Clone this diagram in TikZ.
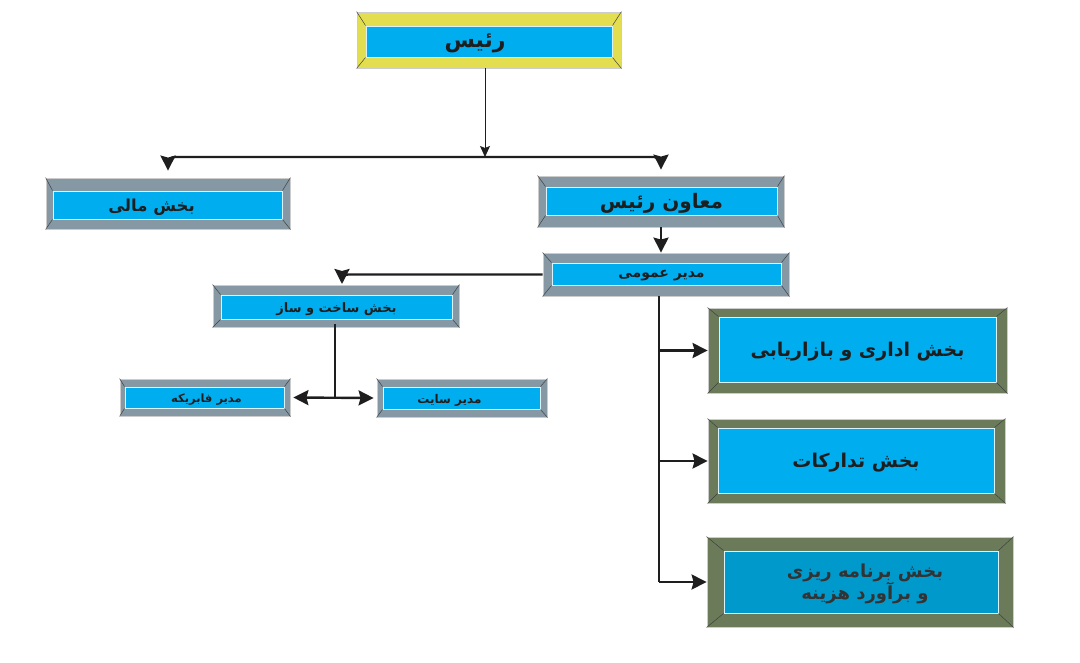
\documentclass[tikz,border=0pt]{standalone}
\usepackage{fontspec}
\usetikzlibrary{arrows.meta,fit}
\newfontfamily\arabicfont[Script=Arabic]{DejaVu Sans}
\TeXXeTstate=1
\definecolor{cblue}{HTML}{00AEEF}
\definecolor{cdblue}{HTML}{0099CC}
\definecolor{cyel}{HTML}{E3DE50}
\definecolor{cgray}{HTML}{8798A5}
\definecolor{colive}{HTML}{6B7B5A}
\definecolor{cink}{HTML}{1E1E1E}
\tikzset{
  outerbox/.style={draw=black!20, line width=0.8pt, inner sep=0pt},
  innerbox/.style={draw=white!85!cblue, line width=1pt, inner sep=0pt},
  diag/.style={draw=black!75, line width=0.5pt},
  lbl/.style={text=cink, font=\arabicfont\bfseries, align=center, inner sep=0pt, yshift=-2pt},
  conn/.style={draw=cink, line width=2.4pt},
  tip/.style={-{Stealth[length=15pt,width=15pt,inset=2pt]}},
  tips/.style={{Stealth[length=15pt,width=15pt,inset=2pt]}-{Stealth[length=15pt,width=15pt,inset=2pt]}},
}
\newcommand\fs[2]{\arabicfont\bfseries\fontsize{#1}{#2}\selectfont}
\newcommand\bbox[7]{%
  \node[outerbox, fill=#2, fit={#3}] (#1) {};
  \node[innerbox, fill=#4, fit={#5}] (#1-in) {};
  \foreach \c in {north west, north east, south west, south east}
    \draw[diag] (#1.\c) -- (#1-in.\c);
  \node[lbl, #6] (#1-t) at (#1-in.center) {#7};
}
\begin{document}
\begin{tikzpicture}[x=1pt,y=-1pt]
\useasboundingbox (0,0) rectangle (1080,662);
% boxes
\bbox{ris}{cyel}{(357,12)(621,68)}{cblue}{(366,26)(612,57)}{font=\fs{22}{26}, xshift=-14pt}{\beginR رئیس\endR}
\bbox{mali}{cgray}{(46,178)(290,229)}{cblue}{(53,191)(282,219)}{font=\fs{16.5}{20}, xshift=-16pt}{\beginR بخش مالی\endR}
\bbox{moavin}{cgray}{(538,176)(784,227)}{cblue}{(546,187)(777,215)}{font=\fs{20}{24}}{\beginR معاون رئیس\endR}
\bbox{modir}{cgray}{(543,253)(789,296)}{cblue}{(552,263)(781,285)}{font=\fs{14}{17}, xshift=-5pt}{\beginR مدیر عمومی\endR}
\bbox{sakht}{cgray}{(213,285)(459,327)}{cblue}{(221,295)(452,319)}{font=\fs{13}{16}}{\beginR بخش ساخت و ساز\endR}
\bbox{fab}{cgray}{(120,379)(290,416)}{cblue}{(125,387)(284,408)}{font=\fs{11.5}{14}, xshift=2pt}{\beginR مدیر فابریکه\endR}
\bbox{site}{cgray}{(377,379)(547,417)}{cblue}{(383,387)(540,409)}{font=\fs{12}{14}, xshift=-12pt}{\beginR مدیر سایت\endR}
\bbox{edari}{colive}{(708,308)(1007,393)}{cblue}{(719,317)(996,382)}{font=\fs{19}{22}}{\beginR بخش اداری و بازاریابی\endR}
\bbox{tadar}{colive}{(708,419)(1005,503)}{cblue}{(718,428)(994,493)}{font=\fs{19}{22}}{\beginR بخش تدارکات\endR}
\bbox{barn}{colive}{(707,537)(1013,627)}{cdblue}{(724,551)(998,613)}{font=\fs{18}{21}, text=black!80, xshift=4pt}{\beginR بخش برنامه ریزی\endR\\\beginR و برآورد هزینه\endR}
% connectors
\coordinate (bar) at (485,157);
\draw[cink, line width=0.8pt, -{Stealth[length=11pt,width=10pt,inset=2pt]}] (ris.south -| bar) -- (bar);
\draw[conn, tips, rounded corners=7pt, shorten <=7pt, shorten >=6pt] (mali.north) |- (bar) -| (moavin.north);
\draw[conn, tip] (moavin.south) -- (moavin.south |- modir.north);
\coordinate (sk) at (342,285);
\draw[conn, tip, rounded corners=6pt, shorten >=1pt] (modir.west) -| (sk);
\coordinate (j) at (335,397);
\draw[conn] ([yshift=3pt]sakht.south -| j) -- (j);
\draw[conn, tips, shorten <=3pt, shorten >=3pt] (fab.east) -- (site.west);
\coordinate (v) at (659,296);
\draw[conn] (v) -- (v |- barn.west);
\draw[conn, tip] (v |- edari.west) -- (edari.west);
\draw[conn, tip] (v |- tadar.west) -- (tadar.west);
\draw[conn, tip] (v |- barn.west) -- (barn.west);
\end{tikzpicture}
\end{document}
